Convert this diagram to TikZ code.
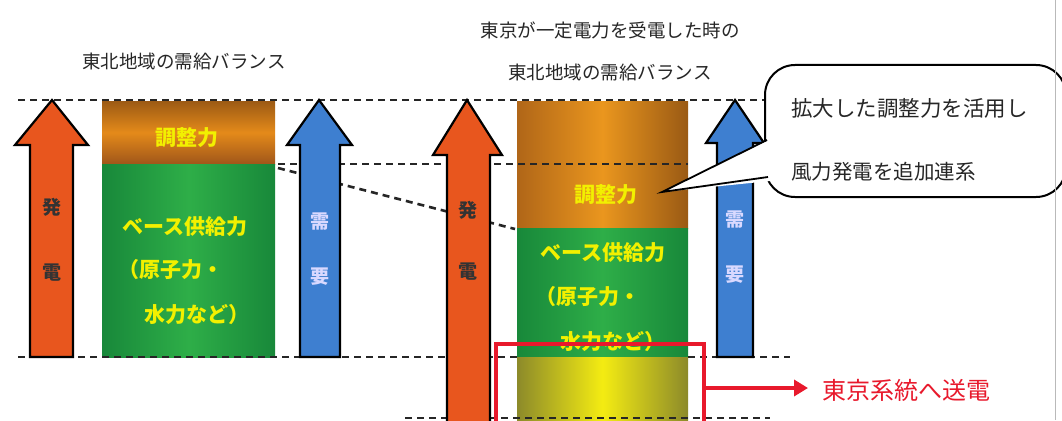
\documentclass[tikz,border=0pt]{standalone}
\usepackage{fontspec}
\newfontfamily\jp{Noto Sans CJK JP}
\usetikzlibrary{arrows.meta}
\definecolor{orA}{HTML}{9C5A14}
\definecolor{orB}{HTML}{E48A1A}
\definecolor{orC}{HTML}{A0561A}
\definecolor{orL}{HTML}{B06618}
\definecolor{orM}{HTML}{EA961E}
\definecolor{orR}{HTML}{9A5A14}
\definecolor{grE}{HTML}{18883A}
\definecolor{grM}{HTML}{2EAE48}
\definecolor{yE}{HTML}{8C8A2A}
\definecolor{yM}{HTML}{F4EC12}
\definecolor{arrOr}{HTML}{E8561E}
\definecolor{arrBl}{HTML}{3E7FD0}
\definecolor{boxYel}{HTML}{F2F000}
\definecolor{redC}{HTML}{E8192C}
\begin{document}
\begin{tikzpicture}[x=1pt,y=-1pt,
  dashln/.style={draw=black!85,line width=2.6pt,dash pattern=on 7pt off 5pt},
  genarr/.style={draw=black,line width=2.2pt,fill=arrOr,line join=miter},
  demarr/.style={draw=black,line width=2.2pt,fill=arrBl,line join=miter},
  ttl/.style={font=\jp\fontsize{18.5}{18.5}\selectfont,text=black!85,inner sep=0},
  btxt/.style={font=\jp\bfseries\fontsize{21}{21}\selectfont,text=boxYel,inner sep=0},
  atxtg/.style={font=\jp\bfseries\fontsize{19}{19}\selectfont,text=black!80,inner sep=0},
  atxtd/.style={font=\jp\bfseries\fontsize{19}{19}\selectfont,text=white!85!blue,inner sep=0},
  redln/.style={draw=redC,line width=3.6pt},
  ctxt/.style={font=\jp\fontsize{21.5}{21.5}\selectfont,text=black!85,inner sep=0,anchor=west}]
\useasboundingbox (0,0) rectangle (1062,420);
\fill[white] (0,0) rectangle (1062,420);
\clip (0,0) rectangle (1062,420);

% boxes
\shade[top color=orA,bottom color=orC,middle color=orB] (102,101) rectangle (275,164);
\shade[left color=grE,right color=grE,middle color=grM] (102,164) rectangle (275,357);
\shade[left color=orL,right color=orR,middle color=orM] (517,101) rectangle (688,228);
\shade[left color=grE,right color=grE,middle color=grM] (517,228) rectangle (688,357);
\shade[left color=yE,right color=yE,middle color=yM] (517,357) rectangle (688,425);

% dashed reference lines
\draw[dashln] (18,100) -- (770,100);
\draw[dashln] (18,357) -- (517,357);
\draw[dashln] (688,357) -- (790,357);
\draw[dashln] (278,164) -- (688,164);
\draw[dashln] (278,168) -- (515,229);
\draw[dashln] (405,418) -- (770,418);

% arrows
\draw[genarr] (52,100) -- (88,145) -- (73,145) -- (73,357) -- (30,357) -- (30,145) -- (15,145) -- cycle;
\draw[demarr] (319,100) -- (352,145) -- (340,145) -- (340,357) -- (300,357) -- (300,145) -- (287,145) -- cycle;
\draw[genarr] (467,100) -- (502,155) -- (490,155) -- (490,430) -- (447,430) -- (447,155) -- (433,155) -- cycle;
\draw[demarr] (735,100) -- (764,143) -- (753,143) -- (753,357) -- (717,357) -- (717,143) -- (706,143) -- cycle;

% arrow labels
\node[atxtg] (g1a) at (52,207) {発};
\node[atxtg] (g1b) at (52,273) {電};
\node[atxtd] (d1a) at (320,222) {需};
\node[atxtd] (d1b) at (320,277) {要};
\node[atxtg] (g2a) at (468,210) {発};
\node[atxtg] (g2b) at (468,272) {電};
\node[atxtd] (d2a) at (735,220) {需};
\node[atxtd] (d2b) at (735,275) {要};

% titles
\node[ttl] (t1) at (184,61) {東北地域の需給バランス};
\node[ttl] (t2) at (610,30) {東京が一定電力を受電した時の};
\node[ttl] (t3) at (610,72) {東北地域の需給バランス};

% box texts
\node[btxt] (lA) at (187,138) {調整力};
\node[btxt] (lB) at (185,227) {ベース供給力};
\node[btxt,anchor=west] (lC) at (118,270) {（原子力・};
\node[btxt,anchor=east] (lD) at (250,315) {水力など）};
\node[btxt] (rA) at (606,195) {調整力};
\node[btxt] (rB) at (603,253) {ベース供給力};
\node[btxt,anchor=west] (rC) at (535,297) {（原子力・};
\node[btxt,anchor=east] (rD) at (666,342) {水力など）};

% red transfer path
\coordinate (rl) at (496,430);
\coordinate (rr) at (704,430);
\coordinate (rt) at (704,344);
\coordinate (rm) at (704,388);
\coordinate (sendtip) at (808,388);
\draw[redln,line join=miter] (rl) |- (rt) -- (rr);
\draw[redln,-{Triangle[length=14pt,width=16pt]}] (rm) -- (sendtip);
\node[font=\jp\fontsize{24}{24}\selectfont,text=redC,inner sep=0,anchor=west] (send) at (822,390) {東京系統へ送電};

% callout
\draw[line width=2pt,fill=white,rounded corners=30pt] (765,65) rectangle (1066,197);
\fill[white] (662,192) -- (777,136) -- (780,180) -- cycle;
\coordinate (ptip) at (662,192);
\coordinate (pu) at (767,140);
\coordinate (pl) at (768,177);
\draw[line width=1.8pt] (pu) -- (ptip) -- (pl);
\node[ctxt] (c1) at (791,108) {拡大した調整力を活用し};
\node[ctxt,font=\jp\fontsize{20.5}{20.5}\selectfont] (c2) at (791,172) {風力発電を追加連系};

% frame edge
\draw[gray!55,line width=1pt] (1055,0) -- (1055,420);
\end{tikzpicture}
\end{document}
